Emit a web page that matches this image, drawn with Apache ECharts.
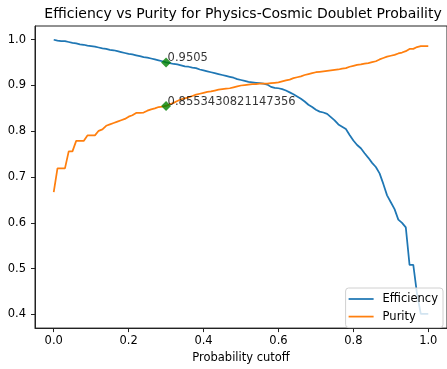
<!DOCTYPE html>
<html>
<head>
<meta charset="utf-8">
<script src="https://cdn.jsdelivr.net/npm/echarts@6/dist/echarts.min.js"></script>
<style>html,body{margin:0;padding:0;background:#fff;}#c{width:447px;height:369px;}</style>
</head>
<body>
<div id="c"></div>
<script>
const cutoffs = [0.00,0.01,0.02,0.03,0.04,0.05,0.06,0.07,0.08,0.09,
0.10,0.11,0.12,0.13,0.14,0.15,0.16,0.17,0.18,0.19,
0.20,0.21,0.22,0.23,0.24,0.25,0.26,0.27,0.28,0.29,
0.30,0.31,0.32,0.33,0.34,0.35,0.36,0.37,0.38,0.39,
0.40,0.41,0.42,0.43,0.44,0.45,0.46,0.47,0.48,0.49,
0.50,0.51,0.52,0.53,0.54,0.55,0.56,0.57,0.58,0.59,
0.60,0.61,0.62,0.63,0.64,0.65,0.66,0.67,0.68,0.69,
0.70,0.71,0.72,0.73,0.74,0.75,0.76,0.77,0.78,0.79,
0.80,0.81,0.82,0.83,0.84,0.85,0.86,0.87,0.88,0.89,
0.90,0.91,0.92,0.93,0.94,0.95,0.96,0.97,0.98,0.99,1.00];

const efficiency = [1.000,0.998,0.997,0.997,0.995,0.993,0.992,0.990,0.989,0.987,
0.986,0.985,0.983,0.981,0.980,0.978,0.977,0.975,0.973,0.971,
0.969,0.968,0.966,0.964,0.962,0.961,0.959,0.957,0.955,0.953,
0.9505,0.949,0.947,0.946,0.944,0.942,0.941,0.939,0.938,0.935,
0.933,0.931,0.929,0.927,0.925,0.923,0.921,0.919,0.917,0.914,
0.912,0.910,0.908,0.907,0.906,0.905,0.904,0.902,0.897,0.895,
0.894,0.892,0.889,0.885,0.881,0.876,0.871,0.865,0.858,0.853,
0.847,0.843,0.841,0.838,0.831,0.824,0.815,0.810,0.805,0.792,
0.780,0.770,0.763,0.752,0.742,0.731,0.722,0.708,0.685,0.660,
0.645,0.630,0.607,0.600,0.590,0.508,0.508,0.445,0.401,0.401,0.401];

const purity = [0.667,0.719,0.719,0.719,0.756,0.756,0.779,0.779,0.779,0.791,
0.791,0.791,0.801,0.804,0.812,0.815,0.818,0.821,0.824,0.827,
0.832,0.835,0.840,0.840,0.841,0.845,0.848,0.850,0.853,0.854,
0.8553,0.859,0.862,0.866,0.870,0.872,0.874,0.877,0.880,0.882,
0.884,0.886,0.887,0.889,0.891,0.892,0.893,0.894,0.896,0.898,
0.900,0.901,0.902,0.903,0.903,0.904,0.904,0.904,0.905,0.906,
0.907,0.909,0.911,0.913,0.916,0.918,0.920,0.923,0.925,0.927,
0.929,0.930,0.931,0.932,0.933,0.934,0.935,0.937,0.938,0.941,
0.943,0.945,0.946,0.948,0.949,0.951,0.953,0.957,0.960,0.963,
0.965,0.967,0.970,0.972,0.975,0.980,0.980,0.984,0.986,0.986,0.986];

const markerX = [0.3, 0.3];
const markerY = [0.9505, 0.8553430821147356];
const markerLabels = ['0.9505', '0.8553430821147356'];

const xTicks = [0.0, 0.2, 0.4, 0.6, 0.8, 1.0];
const yTicks = [0.4, 0.5, 0.6, 0.7, 0.8, 0.9, 1.0];

const FONT = 'DejaVu Sans';
const FS = 11.5;
const chart = echarts.init(document.getElementById('c'), null, {renderer: 'canvas'});

const effData = cutoffs.map((x, i) => [x, efficiency[i]]);
const purData = cutoffs.map((x, i) => [x, purity[i]]);
const markData = markerX.map((x, i) => ({value: [x, markerY[i]], labelText: markerLabels[i]}));

chart.setOption({
  animation: false,
  backgroundColor: '#fff',
  textStyle: {fontFamily: FONT},
  title: {
    text: 'Efficiency vs Purity for Physics-Cosmic Doublet Probaility',
    left: 238, top: 2, textAlign: 'center',
    textStyle: {fontFamily: FONT, fontSize: 14, fontWeight: 'normal', color: '#000'}
  },
  grid: {
    left: 35, top: 26, width: 414, height: 307,
    show: true, borderColor: '#222', borderWidth: 1, backgroundColor: 'transparent'
  },
  xAxis: {
    type: 'value', min: -0.05, max: 1.05,
    name: 'Probability cutoff', nameLocation: 'middle', nameGap: 23,
    nameTextStyle: {fontFamily: FONT, fontSize: FS, color: '#000'},
    axisLine: {show: true, onZero: false, lineStyle: {color: '#222', width: 1}},
    axisTick: {show: true, inside: false, length: 4, customValues: xTicks, lineStyle: {color: '#222'}},
    axisLabel: {customValues: xTicks, margin: 7, fontFamily: FONT, fontSize: FS, color: '#000',
      formatter: v => v.toFixed(1)},
    splitLine: {show: false}
  },
  yAxis: {
    type: 'value', min: 0.37, max: 1.03,
    axisLine: {show: true, onZero: false, lineStyle: {color: '#222', width: 1}},
    axisTick: {show: true, inside: false, length: 4, customValues: yTicks, lineStyle: {color: '#222'}},
    axisLabel: {customValues: yTicks, margin: 9, fontFamily: FONT, fontSize: FS, color: '#000',
      formatter: v => v.toFixed(1)},
    splitLine: {show: false}
  },
  legend: {
    orient: 'vertical', right: 4, top: 288,
    data: ['Efficiency', 'Purity'],
    icon: 'rect', itemWidth: 25, itemHeight: 1.75, itemGap: 3.6,
    padding: [4, 5, 4, 3],
    backgroundColor: 'rgba(255,255,255,0.8)', borderColor: '#d0d0d0', borderWidth: 1, borderRadius: 3,
    textStyle: {fontFamily: FONT, fontSize: FS, color: '#000', lineHeight: 14, padding: [0, 0, 0, 4]}
  },
  series: [
    {name: 'Efficiency', type: 'line', data: effData, showSymbol: false, color: '#1f77b4',
     lineStyle: {width: 1.75, color: '#1f77b4'}, z: 2},
    {name: 'Purity', type: 'line', data: purData, showSymbol: false, color: '#ff7f0e',
     lineStyle: {width: 1.75, color: '#ff7f0e'}, z: 2},
    {name: 'markers', type: 'scatter', data: markData, symbol: 'diamond', symbolSize: 10,
     itemStyle: {color: '#008000'}, z: 5,
     label: {show: true, position: [6.5, 7], align: 'left', verticalAlign: 'bottom',
       fontFamily: FONT, fontSize: FS, color: '#000',
       formatter: p => p.data.labelText}}
  ]
});
</script>
</body>
</html>
